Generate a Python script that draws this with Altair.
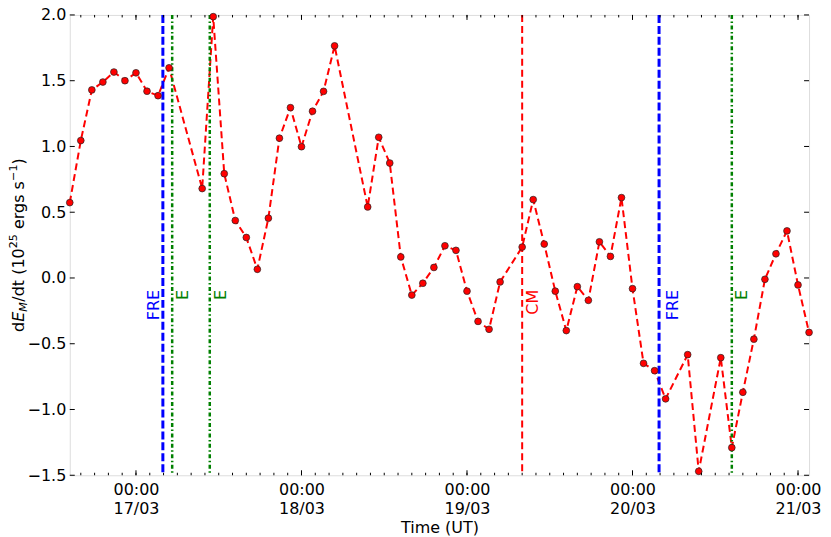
import altair as alt
import pandas as pd

# ---------------- data ----------------
times = [
    "2000-03-16T14:24", "2000-03-16T16:00", "2000-03-16T17:36", "2000-03-16T19:12",
    "2000-03-16T20:48", "2000-03-16T22:24", "2000-03-17T00:00", "2000-03-17T01:36",
    "2000-03-17T03:12", "2000-03-17T04:48", "2000-03-17T09:36", "2000-03-17T11:12",
    "2000-03-17T12:48", "2000-03-17T14:24", "2000-03-17T16:00", "2000-03-17T17:36",
    "2000-03-17T19:12", "2000-03-17T20:48", "2000-03-17T22:24", "2000-03-18T00:00",
    "2000-03-18T01:36", "2000-03-18T03:12", "2000-03-18T04:48", "2000-03-18T09:36",
    "2000-03-18T11:12", "2000-03-18T12:48", "2000-03-18T14:24", "2000-03-18T16:00",
    "2000-03-18T17:36", "2000-03-18T19:12", "2000-03-18T20:48", "2000-03-18T22:24",
    "2000-03-19T00:00", "2000-03-19T01:36", "2000-03-19T03:12", "2000-03-19T04:48",
    "2000-03-19T08:00", "2000-03-19T09:36", "2000-03-19T11:12", "2000-03-19T12:48",
    "2000-03-19T14:24", "2000-03-19T16:00", "2000-03-19T17:36", "2000-03-19T19:12",
    "2000-03-19T20:48", "2000-03-19T22:24", "2000-03-20T00:00", "2000-03-20T01:36",
    "2000-03-20T03:12", "2000-03-20T04:48", "2000-03-20T08:00", "2000-03-20T09:36",
    "2000-03-20T12:48", "2000-03-20T14:24", "2000-03-20T16:00", "2000-03-20T17:36",
    "2000-03-20T19:12", "2000-03-20T20:48", "2000-03-20T22:24", "2000-03-21T00:00",
    "2000-03-21T01:36",
]
values = [
    0.573, 1.045, 1.43, 1.49,
    1.566, 1.50, 1.56, 1.42,
    1.386, 1.598, 0.68, 1.987,
    0.793, 0.437, 0.308, 0.066,
    0.455, 1.063, 1.295, 0.998,
    1.268, 1.419, 1.765, 0.54,
    1.07, 0.874, 0.16, -0.13,
    -0.04, 0.08, 0.245, 0.21,
    -0.10, -0.33, -0.39, -0.03,
    0.235, 0.596, 0.258, -0.10,
    -0.40, -0.066, -0.17, 0.275,
    0.164, 0.611, -0.081, -0.649,
    -0.705, -0.919, -0.583, -1.47,
    -0.606, -1.29, -0.869, -0.465,
    -0.01, 0.184, 0.358, -0.053,
    -0.414,
]

event_times = ["2000-03-17T03:54", "2000-03-17T05:15", "2000-03-17T10:42",
               "2000-03-19T08:00", "2000-03-20T03:51", "2000-03-20T14:24"]
event_kinds = ["FRE", "E", "E", "CM", "FRE", "E"]

label_times = ["2000-03-17T02:40", "2000-03-17T06:47", "2000-03-17T12:22",
               "2000-03-19T09:32", "2000-03-20T05:52", "2000-03-20T15:50"]
label_texts = ["FRE", "E", "E", "CM", "FRE", "E"]
label_value = -0.09

day_ticks = ["2000-03-17T00:00", "2000-03-18T00:00", "2000-03-19T00:00",
             "2000-03-20T00:00", "2000-03-21T00:00"]
y_ticks = [-1.5, -1.0, -0.5, 0.0, 0.5, 1.0, 1.5, 2.0]

x_start = "2000-03-16T14:24"
x_end = "2000-03-21T01:36"

# ---------------------------------------------------------------
W, H = 742, 462
FONT = "DejaVu Sans"

series = pd.DataFrame({"t": times, "v": values})
events = pd.DataFrame({"t": event_times, "kind": event_kinds})
labels = pd.DataFrame({"t": label_times, "kind": label_texts, "v": [label_value] * len(label_texts)})
minor = pd.DataFrame({"t": pd.date_range("2000-03-16T16:00", "2000-03-21T00:00", freq="2h").strftime("%Y-%m-%dT%H:%M")})
major = pd.DataFrame({"t": day_ticks})
yt = pd.DataFrame({"v": y_ticks})

xscale = alt.Scale(domain=[x_start, x_end], nice=False)
yscale = alt.Scale(domain=[-1.5, 2.0], nice=False, zero=False)

kind_colors = alt.Scale(domain=["FRE", "E", "CM"], range=["#0000ff", "#008000", "#ff0000"])

X = alt.X("t:T", scale=xscale,
          axis=alt.Axis(values=day_ticks, ticks=False, tickSize=0, domain=False, grid=False,
                        labelExpr="[timeFormat(datum.value, '%H:%M'), timeFormat(datum.value, '%d/%m')]",
                        labelFontSize=16, labelFont=FONT, labelColor="black", labelPadding=6,
                        labelLineHeight=19, labelAlign="center", labelFlush=False,
                        title="Time (UT)", titleFontSize=16, titleFont=FONT, titleFontWeight="normal",
                        titleColor="black", titlePadding=3))
Y = alt.Y("v:Q", scale=yscale,
          axis=alt.Axis(values=y_ticks, format=".1f", ticks=False, tickSize=0, domain=False, grid=False,
                        labelFontSize=16, labelFont=FONT, labelColor="black", labelPadding=4,
                        title=None))

line = alt.Chart(series).mark_line(color="#ff0000", strokeWidth=2, strokeDash=[7, 4]).encode(x=X, y=Y)
pts = alt.Chart(series).mark_point(filled=True, shape="circle", size=46, fill="#ff0000",
                                   stroke="#222222", strokeWidth=0.7, opacity=1).encode(x="t:T", y="v:Q")

fre = alt.Chart(events).transform_filter("datum.kind == 'FRE'").mark_rule(
    color="#0000ff", strokeWidth=3, strokeDash=[8, 3]).encode(x="t:T")
ee = alt.Chart(events).transform_filter("datum.kind == 'E'").mark_rule(
    color="#008000", strokeWidth=2.5, strokeDash=[4, 2.5, 1.5, 2.5]).encode(x="t:T")
cm = alt.Chart(events).transform_filter("datum.kind == 'CM'").mark_rule(
    color="#ff0000", strokeWidth=2, strokeDash=[7, 4]).encode(x="t:T")

txt = alt.Chart(labels).mark_text(angle=270, align="right", baseline="middle",
                                  fontSize=16, font=FONT).encode(
    x="t:T", y="v:Q", text="kind:N",
    color=alt.Color("kind:N", scale=kind_colors, legend=None))

# inward ticks on all four sides
tick_layers = [
    alt.Chart(major).mark_rule(color="black", strokeWidth=1).encode(x="t:T", y=alt.value(H), y2=alt.value(H - 5)),
    alt.Chart(major).mark_rule(color="black", strokeWidth=1).encode(x="t:T", y=alt.value(0), y2=alt.value(5)),
    alt.Chart(minor).mark_rule(color="black", strokeWidth=1).encode(x="t:T", y=alt.value(H), y2=alt.value(H - 2.5)),
    alt.Chart(minor).mark_rule(color="black", strokeWidth=1).encode(x="t:T", y=alt.value(0), y2=alt.value(2.5)),
    alt.Chart(yt).mark_rule(color="black", strokeWidth=1).encode(y="v:Q", x=alt.value(0), x2=alt.value(5)),
    alt.Chart(yt).mark_rule(color="black", strokeWidth=1).encode(y="v:Q", x=alt.value(W - 5), x2=alt.value(W)),
]

# y-axis title built from pieces (sub/superscripts); leading gaps given separately
ADV = {'d': 1300, 'E': 1294, '/': 690, 't': 803, ' ': 651, '(': 799, ')': 799, '1': 1303, '0': 1303,
       '2': 1303, '5': 1303, 'e': 1260, 'r': 842, 'g': 1300, 's': 1067, 'M': 1767, '\u2212': 1716}
def adv(s, size):
    return sum(ADV.get(c, 1200) for c in s) / 2048 * size

SP = adv(" ", 16)
# (text, size, style, baseline shift, gap before)
pieces = [("d", 16, "normal", 0, 0), ("E", 16, "italic", 0, 0), ("M", 11.2, "italic", 3, 0),
          ("/dt (10", 16, "normal", 0, 0.5), ("25", 11.2, "normal", -6.5, 0),
          ("ergs s", 16, "normal", 0, SP),
          ("\u22121", 11.2, "normal", -6.5, 0), (")", 16, "normal", 0, 0)]
total = sum(adv(p[0], p[1]) + p[4] for p in pieces)
center_y = H / 2
xb = -46
cur = center_y + total / 2
one = alt.Data(values=[{"a": 1}])
title_layers = []
for s, size, style, shift, gap in pieces:
    cur -= gap
    title_layers.append(
        alt.Chart(one).mark_text(angle=270, align="left", baseline="alphabetic", fontSize=size,
                                 font=FONT, fontStyle=style, color="black").encode(
            x=alt.value(xb + shift), y=alt.value(cur), text=alt.value(s)))
    cur -= adv(s, size)

chart = alt.layer(line, fre, ee, cm, txt, pts, *tick_layers, *title_layers).properties(
    width=W, height=H,
    autosize=alt.AutoSizeParams(type="none"),
    padding={"left": 62, "top": 6, "right": 14, "bottom": 60},
).configure_view(stroke="black", strokeWidth=1).configure(background="white")

chart.save("out.html", embed_options={"renderer": "svg", "actions": False})
